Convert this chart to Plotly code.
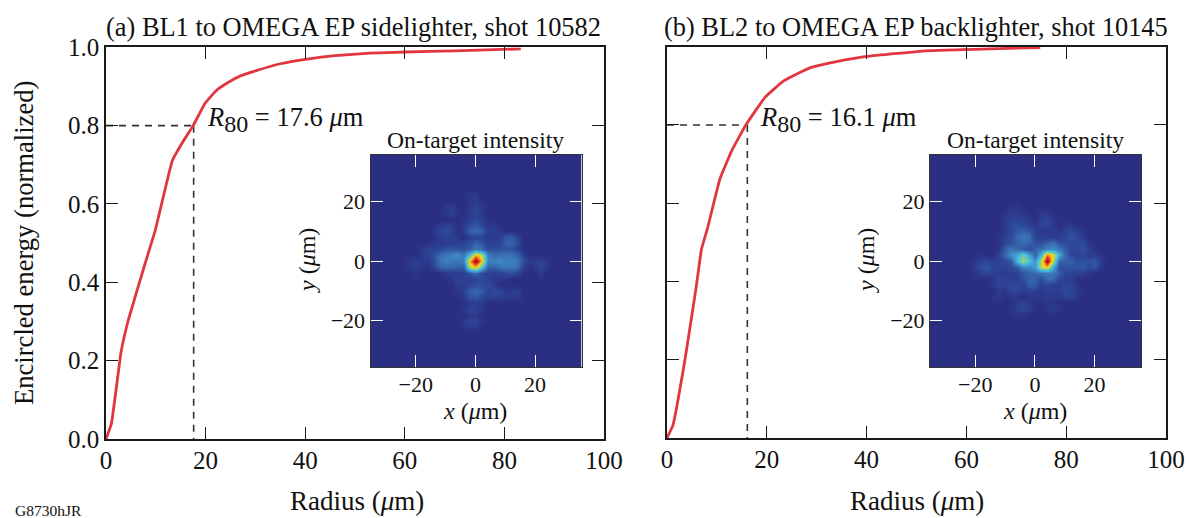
import plotly.graph_objects as go

W, H = 1189, 518

radius_a = [0, 1.1, 3.0, 4.4, 7.9, 9.9, 13.3, 15.5, 17.5, 19.9, 22, 24.5, 27, 30.3, 35, 40.4, 46, 53, 60, 70, 83.3]
energy_a = [0, .04, .22, .30, .45, .533, .71, .76, .80, .857, .888, .91, .927, .941, .958, .97, .979, .985, .988, .991, .996]
radius_b = [0, 1.2, 3.6, 5.9, 6.9, 8.1, 10.6, 13, 15.8, 19.6, 23.3, 28.6, 34, 40, 52.7, 74.8]
energy_b = [0, .033, .2, .39, .482, .535, .662, .735, .80, .87, .912, .946, .962, .975, .99, .998]
r80_a = 17.6
r80_b = 16.1
level80 = 0.8

titles = ["(a) BL1 to OMEGA EP sidelighter, shot 10582", "(b) BL2 to OMEGA EP backlighter, shot 10145"]
r80_labels = ["<i>R</i><sub><span style='font-size:24px'>80</span></sub> = 17.6 <i>μ</i>m",
              "<i>R</i><sub><span style='font-size:24px'>80</span></sub> = 16.1 <i>μ</i>m"]

grid_x = [-36,-34,-32,-30,-28,-26,-24,-22,-20,-18,-16,-14,-12,-10,-8,-6,-4,-2,0,2,4,6,8,10,12,14,16,18,20,22,24,26,28,30,32,34,36]
grid_y = [36,34,32,30,28,26,24,22,20,18,16,14,12,10,8,6,4,2,0,-2,-4,-6,-8,-10,-12,-14,-16,-18,-20,-22,-24,-26,-28,-30,-32,-34,-36]

# cell values for x = -24 ... 24 and y = 24 ... -24; everything further out is background
intensity_a = [
 [0,0,0,0,0,0,0,0,0,0,0,0,0,0,0,0,0,0,0,0,0,0,0,0,0],
 [0,0,0,0,0,0,0,0,0,0,0,2,3,0,0,0,0,0,0,0,0,0,0,0,0],
 [0,0,0,0,0,0,0,0,0,0,0,3,4,1,0,0,0,0,0,0,0,0,0,0,0],
 [0,0,0,0,0,0,0,3,4,0,0,3,6,3,0,0,0,0,0,0,0,0,0,0,0],
 [0,0,0,0,0,0,0,3,4,2,0,4,6,3,0,0,0,0,0,0,0,0,0,0,0],
 [0,0,0,0,0,0,0,0,0,0,2,4,7,5,1,0,0,0,0,0,0,0,0,0,0],
 [0,0,0,0,0,0,3,5,4,0,3,8,12,8,2,3,0,0,0,0,0,0,0,0,0],
 [0,0,0,0,0,2,7,9,6,0,4,14,16,14,4,5,3,0,0,0,0,0,0,0,0],
 [0,0,0,0,0,0,4,6,5,3,0,5,6,5,3,4,5,11,12,6,0,0,0,0,0],
 [0,0,0,0,0,3,3,4,4,5,5,9,15,12,5,4,6,14,15,8,0,0,0,0,0],
 [0,0,0,3,6,6,7,10,11,11,10,12,20,16,8,9,10,10,10,6,0,0,0,0,0],
 [0,0,0,3,6,9,17,20,22,26,20,40,74,60,22,17,18,20,19,15,5,0,0,0,0],
 [0,3,4,3,3,8,18,22,20,20,22,72,100,72,24,22,26,22,22,20,8,3,5,6,3],
 [0,3,5,3,0,5,14,16,15,14,12,58,72,42,14,14,18,20,20,17,5,0,4,6,3],
 [0,0,2,0,0,0,0,3,4,3,5,10,16,8,5,5,5,8,9,6,0,0,0,4,0],
 [0,0,0,0,0,0,0,0,3,6,5,4,6,8,6,3,3,2,0,0,0,0,0,0,0],
 [0,0,0,0,0,0,0,0,0,5,4,6,9,8,8,5,0,0,0,0,0,0,0,0,0],
 [0,0,0,0,0,0,0,0,0,2,4,13,16,13,6,8,7,3,4,4,0,0,0,0,0],
 [0,0,0,0,0,0,0,0,0,0,3,10,12,8,4,6,5,3,4,3,0,0,0,0,0],
 [0,0,0,0,0,0,0,0,0,0,0,3,4,3,0,0,0,0,0,0,0,0,0,0,0],
 [0,0,0,0,0,0,0,0,0,0,3,6,6,3,0,0,0,0,0,0,0,0,0,0,0],
 [0,0,0,0,0,0,0,0,0,0,0,3,3,0,0,0,0,0,0,0,0,0,0,0,0],
 [0,0,0,0,0,0,0,0,0,0,3,6,6,2,0,0,0,0,0,0,0,0,0,0,0],
 [0,0,0,0,0,0,0,0,0,0,2,4,3,0,0,0,0,0,0,0,0,0,0,0,0],
 [0,0,0,0,0,0,0,0,0,0,0,0,0,0,0,0,0,0,0,0,0,0,0,0,0],
]

intensity_b = [
 [0,0,0,0,0,0,0,0,0,0,0,0,0,0,0,0,0,0,0,0,0,0,0,0,0],
 [0,0,0,0,0,0,0,0,0,0,0,0,0,0,0,0,0,0,0,0,0,0,0,0,0],
 [0,0,0,0,0,0,0,0,0,0,0,0,0,0,0,0,0,0,0,0,0,0,0,0,0],
 [0,0,0,0,0,0,0,0,2,2,0,0,0,0,0,0,0,0,0,0,0,0,0,0,0],
 [0,0,0,0,0,0,0,2,4,4,3,0,0,3,3,0,0,0,0,0,0,0,0,0,0],
 [0,0,0,0,0,0,0,3,5,6,5,3,0,5,6,3,0,0,0,0,0,0,0,0,0],
 [0,0,0,0,0,0,0,3,8,9,8,5,3,6,7,3,0,2,3,0,0,0,0,0,0],
 [0,0,0,0,0,0,0,4,7,12,14,12,4,3,3,3,3,5,8,5,2,0,0,0,0],
 [0,0,0,0,0,0,2,5,8,16,20,18,6,4,4,4,4,7,10,7,3,0,0,0,0],
 [0,0,0,0,0,0,0,7,10,14,17,15,10,9,14,18,10,8,7,8,8,2,0,0,0],
 [0,0,0,0,0,0,3,14,20,16,12,8,14,18,24,26,20,12,6,7,10,4,0,0,0],
 [0,0,0,2,0,0,6,16,26,34,50,32,14,38,80,66,34,16,6,5,6,4,4,2,0],
 [0,0,3,6,6,4,5,7,12,38,58,42,28,60,100,60,14,14,14,9,10,10,12,5,0],
 [0,0,4,9,11,6,7,6,8,12,25,24,30,60,70,34,9,10,11,10,12,8,10,3,0],
 [0,0,2,5,7,4,4,3,4,5,10,14,16,18,20,20,14,6,6,6,4,2,0,0,0],
 [0,0,0,0,0,2,6,5,4,4,10,14,14,8,16,16,6,5,4,0,0,0,0,0,0],
 [0,0,0,0,0,3,7,5,8,7,4,14,12,5,7,5,4,7,6,2,0,0,0,0,0],
 [0,0,0,0,0,0,3,2,6,7,4,5,4,3,4,4,4,8,6,3,0,0,0,0,0],
 [0,0,0,0,0,2,3,0,2,2,0,2,2,3,4,3,3,5,6,3,0,0,0,0,0],
 [0,0,0,0,0,0,0,0,0,4,6,4,1,0,2,2,0,0,0,0,0,0,0,0,0],
 [0,0,0,0,0,0,0,0,2,5,6,4,0,0,2,4,2,0,0,0,0,0,0,0,0],
 [0,0,0,0,0,0,0,0,0,2,2,0,0,0,0,0,0,0,0,0,0,0,0,0,0],
 [0,0,0,0,0,0,0,0,0,0,0,0,0,0,0,0,0,0,0,0,0,0,0,0,0],
 [0,0,0,0,0,0,0,0,0,0,0,0,0,0,0,0,0,0,0,0,0,0,0,0,0],
 [0,0,0,0,0,0,0,0,0,0,0,0,0,0,0,0,0,0,0,0,0,0,0,0,0],
]

BG = "#2b2f83"
jet = [[0, BG], [.08, "#2e4a9a"], [.2, "#3c78b8"], [.35, "#43aee0"], [.45, "#5cc9c8"],
       [.55, "#8dcf70"], [.65, "#f0e020"], [.75, "#f5a020"], [.85, "#e83020"], [1, "#8c1414"]]
FONT = "Liberation Serif"
INK = "#1a1a1a"
RED = "#e2363f"


def px(x):
    return x / W


def py(y):
    return 1 - y / H


def padded(rows):
    blank = [0] * len(grid_x)
    return [blank] * 6 + [[0] * 6 + r + [0] * 6 for r in rows] + [blank] * 6


fig = go.Figure()
for i, (rx, ry, r80, z) in enumerate([(radius_a, energy_a, r80_a, intensity_a),
                                      (radius_b, energy_b, r80_b, intensity_b)]):
    xa = "x" if i == 0 else "x2"
    ya = "y" if i == 0 else "y2"
    dash = dict(color="#333333", width=1.6, dash="7px,6px")
    fig.add_trace(go.Scatter(x=[0, r80], y=[level80, level80], mode="lines", line=dash, xaxis=xa, yaxis=ya))
    fig.add_trace(go.Scatter(x=[r80, r80], y=[level80, 0], mode="lines", line=dash, xaxis=xa, yaxis=ya))
    fig.add_trace(go.Scatter(x=rx, y=ry, mode="lines", line=dict(color=RED, width=2.8, shape="spline", smoothing=0.3),
                             xaxis=xa, yaxis=ya))
    fig.add_trace(go.Heatmap(x=grid_x, y=grid_y, z=padded(z), zmin=0, zmax=100, zsmooth="best", colorscale=jet,
                             showscale=False, hoverinfo="skip",
                             xaxis="x3" if i == 0 else "x4", yaxis="y3" if i == 0 else "y4"))

main_common = dict(ticks="inside", ticklen=12, tickwidth=1.4, tickcolor=INK, mirror="ticks", showline=True,
                   linecolor=INK, linewidth=1.6, showgrid=False, zeroline=False,
                   tickfont=dict(family=FONT, size=25, color="#111"))
inset_common = dict(ticks="inside", ticklen=12, tickwidth=1.4, tickcolor="white", mirror="ticks", showline=True,
                    linecolor="#333", linewidth=1, showgrid=False, zeroline=False,
                    tickvals=[-20, 0, 20], tickfont=dict(family=FONT, size=22, color="#111"))


def main_x(left, right, yname):
    return dict(domain=[px(left), px(right)], range=[0, 100], tick0=0, dtick=20, anchor=yname,
                ticklabelstandoff=-2, **main_common)


def main_y(top, bottom, xname, labels):
    return dict(domain=[py(bottom), py(top)], range=[0, 1], tick0=0, dtick=.2, tickformat=".1f",
                anchor=xname, showticklabels=labels, **main_common)


fig.update_layout(
    width=W, height=H, margin=dict(l=0, r=0, t=0, b=0, autoexpand=False), showlegend=False,
    paper_bgcolor="white", plot_bgcolor="white",
    xaxis=main_x(106, 604, "y"), yaxis=main_y(47.3, 439, "x", True),
    xaxis2=main_x(667, 1166, "y2"), yaxis2=main_y(46.7, 438, "x2", False),
    xaxis3=dict(domain=[px(370.5), px(581.5)], range=[-35.2, 35.6], anchor="y3", ticklabelstandoff=-2, **inset_common),
    yaxis3=dict(domain=[py(367), py(155)], range=[-35.5, 35.5], anchor="x3", **inset_common),
    xaxis4=dict(domain=[px(930), px(1141)], range=[-35.2, 35.6], anchor="y4", ticklabelstandoff=-2, **inset_common),
    yaxis4=dict(domain=[py(367), py(155)], range=[-35.5, 35.5], anchor="x4", **inset_common),
)


def note(text, x, y, size, xanchor="center", angle=0, color="#111"):
    fig.add_annotation(text=text, x=px(x), y=py(y), xref="paper", yref="paper", showarrow=False, xanchor=xanchor,
                       yanchor="middle", textangle=angle, font=dict(family=FONT, size=size, color=color))


note(titles[0], 104, 27, 26.4, "left")
note(titles[1], 662, 27, 26.4, "left")
note("Encircled energy (normalized)", 24, 243, 26.6, angle=-90)
note("Radius (<i>μ</i>m)", 357, 501, 27)
note("Radius (<i>μ</i>m)", 917, 501, 27)
note(r80_labels[0], 205, 120, 26.5, "left")
note(r80_labels[1], 758, 120, 26.5, "left")
note("On-target intensity", 475, 140, 23.6)
note("On-target intensity", 1035, 140, 23.6)
note("<i>x</i> (<i>μ</i>m)", 475, 411, 24)
note("<i>x</i> (<i>μ</i>m)", 1035, 411, 24)
note("<i>y</i> (<i>μ</i>m)", 307, 261, 24, angle=-90)
note("<i>y</i> (<i>μ</i>m)", 866, 261, 24, angle=-90)
note("G8730hJR", 13, 510, 15.5, "left")

fig.write_html("out.html", config={"displayModeBar": False}, post_script="document.body.style.margin='0';")
